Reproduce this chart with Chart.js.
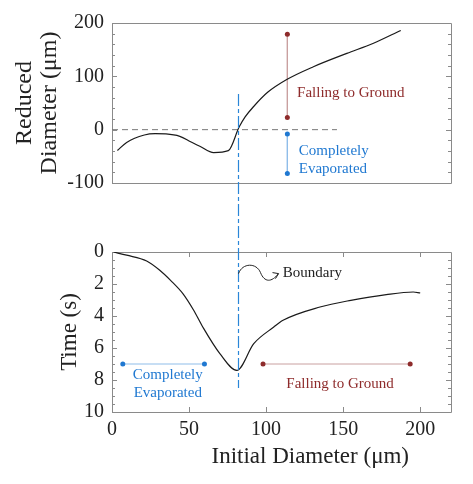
<!DOCTYPE html>
<html>
<head>
<meta charset="utf-8">
<script src="https://cdn.jsdelivr.net/npm/chart.js@4"></script>
<style>
  html, body { margin: 0; padding: 0; background: #fff; }
</style>
</head>
<body>
<canvas id="chart" width="473" height="484"></canvas>
<script>
// top panel: reduced diameter vs initial diameter (um)
const topX = [3.5, 9.5, 21, 28, 35, 44, 51, 57, 66, 75.5, 82.5, 86.4, 91.8, 101, 113.4, 130.7, 152.4, 169.7, 187.4];
const topY = [-39, -24, -10, -7.5, -8, -12.5, -22.5, -31, -43, -39.4, 5, 24, 43, 70, 94, 118, 143, 162, 186];

// bottom panel: time (s) vs initial diameter (um)
const botX = [1, 9.5, 22.5, 31, 38, 46, 53, 59, 70, 81, 92, 105, 111, 135, 155, 178, 195.5, 200];
const botT = [0, 0.2, 0.56, 1.14, 1.77, 2.6, 3.64, 4.7, 6.35, 7.4, 5.73, 4.69, 4.27, 3.44, 3.02, 2.66, 2.5, 2.56];

// annotation ranges
const zeroLineX = [0, 146];
const fallTopX = [113.8, 113.8], fallTopY = [179, 23];
const evapTopX = [113.8, 113.8], evapTopY = [-8, -82];
const evapBotX = [7, 60], evapBotT = [7, 7];
const fallBotX = [98, 193.5], fallBotT = [7, 7];
const boundaryX = 82, boundaryTopY = 67, boundaryBotT = 8.5;

// tick labels
const xTicks = [0, 50, 100, 150, 200];
const yTopTicks = [-100, 0, 100, 200];
const yBotTicks = [0, 2, 4, 6, 8, 10];

const serif = '"Liberation Serif", "DejaVu Serif", serif';
const RED = '#8e2b2b', BLUE = '#1f78d1';

function pts(xs, ys) { return xs.map((x, i) => ({x: x, y: ys[i]})); }

const decor = {
  id: 'decor',
  beforeDatasetsDraw(chart) {
    const {ctx, chartArea: a, scales} = chart;
    ctx.save();
    ctx.strokeStyle = '#8a8a8a';
    ctx.lineWidth = 1;
    ctx.beginPath();
    [['yTop', 20, 100], ['yBot', 0.5, 2]].forEach(([id, step, major]) => {
      const s = scales[id];
      ctx.rect(a.left + 0.5, Math.round(s.top) + 0.5, Math.round(a.right - a.left), Math.round(s.bottom - s.top));
      for (let v = s.min; v <= s.max + 1e-9; v += step) {
        const y = Math.round(s.getPixelForValue(v)) + 0.5;
        const len = Math.abs(v / major - Math.round(v / major)) < 1e-6 ? 5 : 3;
        ctx.moveTo(a.left, y); ctx.lineTo(a.left + len, y);
        ctx.moveTo(a.right, y); ctx.lineTo(a.right - len, y);
      }
    });
    const yb = scales.yBot;
    xTicks.slice(1).forEach(v => {
      const x = Math.round(scales.x.getPixelForValue(v)) + 0.5;
      ctx.moveTo(x, yb.top); ctx.lineTo(x, yb.top + 5);
      ctx.moveTo(x, yb.bottom); ctx.lineTo(x, yb.bottom - 5);
    });
    ctx.stroke();
    ctx.restore();
  },
  afterDatasetsDraw(chart) {
    const {ctx, scales} = chart;
    const px = v => scales.x.getPixelForValue(v);
    const pyT = v => scales.yTop.getPixelForValue(v);
    const pyB = v => scales.yBot.getPixelForValue(v);
    ctx.save();

    // boundary line across both panels
    ctx.strokeStyle = '#2a86d8';
    ctx.lineWidth = 1.2;
    ctx.setLineDash([12, 3, 4, 3]);
    ctx.beginPath();
    const bx = Math.round(px(boundaryX)) + 0.5;
    ctx.moveTo(bx, pyT(boundaryTopY));
    ctx.lineTo(bx, pyB(boundaryBotT));
    ctx.stroke();
    ctx.setLineDash([]);

    // squiggly arrow to "Boundary"
    const sx = bx, sy = pyB(1.35);
    ctx.strokeStyle = '#222';
    ctx.lineWidth = 1;
    ctx.beginPath();
    ctx.moveTo(sx, sy);
    ctx.bezierCurveTo(sx + 4, sy - 11, sx + 18, sy - 11, sx + 22, sy - 1);
    ctx.bezierCurveTo(sx + 26, sy + 9, sx + 33, sy + 9, sx + 40, sy);
    ctx.moveTo(sx + 40, sy);
    ctx.lineTo(sx + 34, sy - 1);
    ctx.moveTo(sx + 40, sy);
    ctx.lineTo(sx + 37, sy + 5);
    ctx.stroke();

    ctx.font = '15px ' + serif;
    ctx.textBaseline = 'middle';
    ctx.fillStyle = '#222';
    ctx.textAlign = 'left';
    ctx.fillText('Boundary', px(110.8), pyB(1.31));

    ctx.fillStyle = RED;
    ctx.fillText('Falling to Ground', px(120.1), pyT(68));
    ctx.fillStyle = BLUE;
    ctx.fillText('Completely', px(121.2), pyT(-41));
    ctx.fillText('Evaporated', px(121.2), pyT(-74));

    ctx.textAlign = 'center';
    ctx.fillText('Completely', px(36.2), pyB(7.71));
    ctx.fillText('Evaporated', px(36.2), pyB(8.79));
    ctx.fillStyle = RED;
    ctx.fillText('Falling to Ground', px(148), pyB(8.23));
    ctx.restore();
  }
};

function segment(xs, ys, axis, line, dot) {
  return {
    data: pts(xs, ys), yAxisID: axis,
    borderColor: line, borderWidth: 1,
    pointRadius: 2.5, pointBackgroundColor: dot, pointBorderColor: dot, pointBorderWidth: 0
  };
}

const tickFont = { family: serif, size: 20 };

new Chart(document.getElementById('chart'), {
  type: 'line',
  data: {
    datasets: [
      {
        data: pts(topX, topY), yAxisID: 'yTop',
        borderColor: '#1a1a1a', borderWidth: 1.2, pointRadius: 0,
        cubicInterpolationMode: 'monotone'
      },
      {
        data: pts(zeroLineX, [0, 0]), yAxisID: 'yTop',
        borderColor: '#777', borderWidth: 1, borderDash: [6, 4], pointRadius: 0
      },
      segment(fallTopX, fallTopY, 'yTop', '#c9a0a0', RED),
      segment(evapTopX, evapTopY, 'yTop', '#8fbde9', BLUE),
      {
        data: pts(botX, botT), yAxisID: 'yBot',
        borderColor: '#1a1a1a', borderWidth: 1.2, pointRadius: 0,
        cubicInterpolationMode: 'monotone'
      },
      segment(evapBotX, evapBotT, 'yBot', '#8fbde9', BLUE),
      segment(fallBotX, fallBotT, 'yBot', '#c9a0a0', RED)
    ]
  },
  options: {
    responsive: false,
    devicePixelRatio: 1,
    animation: false,
    layout: { padding: { top: 23, right: 22, left: 0, bottom: 0 } },
    plugins: { legend: { display: false }, tooltip: { enabled: false } },
    scales: {
      x: {
        type: 'linear', position: 'bottom', min: 0, max: 220,
        afterBuildTicks: s => { s.ticks = xTicks.map(v => ({value: v})); },
        afterFit: s => { s.height = 72; },
        grid: { display: false, drawTicks: false },
        border: { display: false },
        ticks: { padding: 6, color: '#222', font: tickFont, autoSkip: false, maxRotation: 0 },
        title: {
          display: true, text: '          Initial Diameter (\u03bcm)', color: '#222',
          font: { family: serif, size: 23 }, padding: { top: 0, bottom: 13 }
        }
      },
      yTop: {
        type: 'linear', position: 'left', stack: 'panels', stackWeight: 160, weight: 3,
        min: -100, max: 200,
        afterBuildTicks: s => { s.ticks = yTopTicks.map(v => ({value: v})); },
        afterFit: s => { s.width = 112; },
        grid: { display: false, drawTicks: false },
        border: { display: false },
        ticks: { padding: 8, color: '#222', font: tickFont, autoSkip: false },
        title: {
          display: true, text: ['Reduced', 'Diameter (\u03bcm)'], color: '#222',
          font: { family: serif, size: 24, lineHeight: 1.05 }, padding: { top: 12, bottom: 0 }
        }
      },
      yGap: {
        type: 'linear', position: 'left', stack: 'panels', stackWeight: 69, weight: 2,
        display: false,
        afterFit: s => { s.width = 112; }
      },
      yBot: {
        type: 'linear', position: 'left', stack: 'panels', stackWeight: 160, weight: 1,
        min: 0, max: 10, reverse: true,
        afterBuildTicks: s => { s.ticks = yBotTicks.map(v => ({value: v})); },
        afterFit: s => { s.width = 112; },
        grid: { display: false, drawTicks: false },
        border: { display: false },
        ticks: { padding: 8, color: '#222', font: tickFont, autoSkip: false },
        title: {
          display: true, text: 'Time (s)', color: '#222',
          font: { family: serif, size: 23, lineHeight: 1.1 }, padding: { top: 57, bottom: 0 }
        }
      }
    }
  },
  plugins: [decor]
});
</script>
</body>
</html>
